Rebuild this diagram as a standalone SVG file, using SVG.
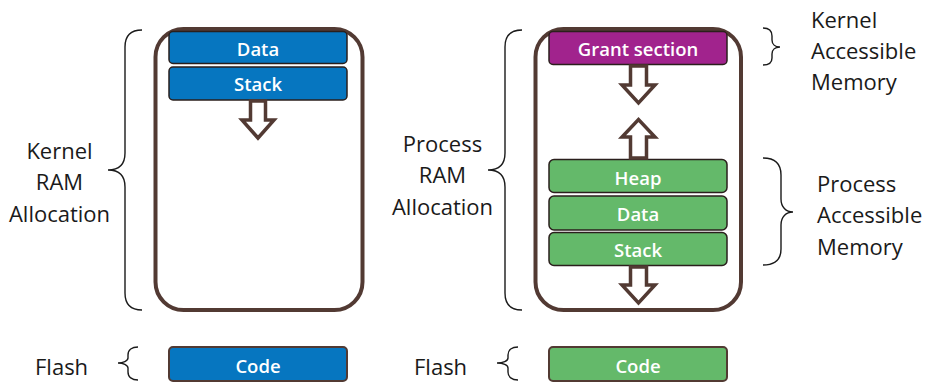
<svg xmlns="http://www.w3.org/2000/svg" width="928" height="383" viewBox="0 0 928 383">
  <style>
    .frame { fill: none; stroke: #523a33; stroke-width: 4; }
    .box { stroke: #2a1f1c; stroke-width: 1.5; }
    .blue { fill: #0676c0; }
    .green { fill: #64b96a; }
    .purple { fill: #a1238d; }
    .code { stroke: #523a33; stroke-width: 2; }
    .lbl { font-family: "Open Sans", "Noto Sans", sans-serif; font-weight: 600; font-size: 18.5px; fill: #ffffff; text-anchor: middle; }
    .txt { font-family: "Open Sans", "Noto Sans", sans-serif; font-size: 22px; fill: #1a1a1a; }
    .mid { text-anchor: middle; }
    .brace { fill: none; stroke: #1a1a1a; stroke-width: 1.4; }
    .arrow { fill: #ffffff; stroke: #523a33; stroke-width: 3.5; stroke-linejoin: miter; }
  </style>

  <!-- Kernel side -->
  <g id="kernel-ram">
    <rect class="frame" x="155.5" y="29" width="207" height="281" rx="28"/>
  </g>
  <g id="kernel-data">
    <rect class="box blue" x="169" y="31.5" width="178" height="32" rx="4"/>
    <text class="lbl" x="258" y="55.5">Data</text>
  </g>
  <g id="kernel-stack">
    <rect class="box blue" x="169" y="67" width="178" height="33" rx="4"/>
    <text class="lbl" x="258" y="91">Stack</text>
  </g>
  <g id="kernel-code">
    <rect class="code blue" x="169" y="347" width="178" height="34" rx="4"/>
    <text class="lbl" x="258" y="372.5">Code</text>
  </g>

  <!-- Process side -->
  <g id="process-ram">
    <rect class="frame" x="535.5" y="29" width="205.5" height="281" rx="28"/>
  </g>
  <g id="grant-section">
    <rect class="box purple" x="549" y="31.5" width="178" height="33" rx="4"/>
    <text class="lbl" x="638" y="56">Grant section</text>
  </g>
  <g id="process-heap">
    <rect class="box green" x="549" y="159.5" width="178" height="33" rx="5"/>
    <text class="lbl" x="638" y="184.5">Heap</text>
  </g>
  <g id="process-data">
    <rect class="box green" x="549" y="196" width="178" height="34" rx="5"/>
    <text class="lbl" x="638" y="221">Data</text>
  </g>
  <g id="process-stack">
    <rect class="box green" x="549" y="232.5" width="178" height="33" rx="5"/>
    <text class="lbl" x="638" y="257">Stack</text>
  </g>
  <g id="process-code">
    <rect class="code green" x="549" y="347" width="178" height="34" rx="4"/>
    <text class="lbl" x="638" y="372.5">Code</text>
  </g>

  <!-- Growth arrows -->
  <g id="connectors">
    <path class="arrow" d="M250.5,101 V120 H242 L258,138 L274,120 H265.5 V101 Z"/>
    <path class="arrow" d="M630.5,66 V85 H622 L638.5,103 L655,85 H646.5 V66 Z"/>
    <path class="arrow" d="M630.5,158 V137 H622 L638.5,119.5 L655,137 H646.5 V158 Z"/>
    <path class="arrow" d="M630.5,267 V285 H622 L638.5,303 L655,285 H646.5 V267 Z"/>
  </g>

  <!-- Braces -->
  <g id="braces">
    <path class="brace" d="M142,30 C131,30 125,36 125,47 L125,153 C125,164 119,170 108,170 C119,170 125,176 125,187 L125,293 C125,304 131,310 142,310"/>
    <path class="brace" d="M522,30 C511,30 505,36 505,47 L505,153 C505,164 499,170 488,170 C499,170 505,176 505,187 L505,293 C505,304 511,310 522,310"/>
    <path class="brace" d="M763,28 C769,28 772,31 772,36 L772,40 C772,44 775,47 780,47 C775,47 772,50 772,54 L772,58 C772,62 769,65 763,65"/>
    <path class="brace" d="M763,158 C775,158 781,164 781,175 L781,199 C781,207 786,212 793,212 C786,212 781,217 781,225 L781,249 C781,260 775,265 763,265"/>
    <path class="brace" d="M138,347 C132,347 128,350 128,355 L128,358 C128,361 123,363 118,363 C123,363 128,365 128,368 L128,372 C128,377 132,380 138,380"/>
    <path class="brace" d="M518,347 C512,347 508,350 508,355 L508,358 C508,361 503,363 497,363 C503,363 508,365 508,368 L508,372 C508,377 512,380 518,380"/>
  </g>

  <!-- Labels -->
  <g id="kernel-ram-label">
    <text class="txt mid" x="59.5" y="158.5">Kernel</text>
    <text class="txt mid" x="59.5" y="190">RAM</text>
    <text class="txt mid" x="59.5" y="221.5">Allocation</text>
  </g>
  <g id="process-ram-label">
    <text class="txt mid" x="442.5" y="151.5">Process</text>
    <text class="txt mid" x="442.5" y="183">RAM</text>
    <text class="txt mid" x="442.5" y="214.5">Allocation</text>
  </g>
  <g id="kernel-accessible-label">
    <text class="txt" x="811" y="27.5">Kernel</text>
    <text class="txt" x="811" y="59">Accessible</text>
    <text class="txt" x="811" y="90">Memory</text>
  </g>
  <g id="process-accessible-label">
    <text class="txt" x="817" y="191.5">Process</text>
    <text class="txt" x="817" y="223">Accessible</text>
    <text class="txt" x="817" y="254.5">Memory</text>
  </g>
  <g id="flash-labels">
    <text class="txt" x="35" y="375">Flash</text>
    <text class="txt" x="414" y="375">Flash</text>
  </g>
</svg>
